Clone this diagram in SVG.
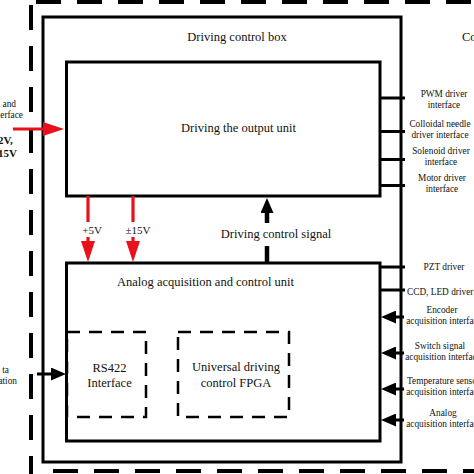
<svg xmlns="http://www.w3.org/2000/svg" width="474" height="474" viewBox="0 0 474 474">
<style>
  .solid { fill: none; stroke: #000; stroke-width: 3; }
  .dashbox { fill: none; stroke: #000; stroke-width: 2.5; stroke-dasharray: 13 9; }
  .outer { fill: none; stroke: #000; stroke-width: 4; stroke-dasharray: 25 16; }
  .t { font-family: "Liberation Serif", "Times New Roman", serif; fill: #111; }
  .big { font-size: 12.5px; }
  .sm { font-size: 9.3px; }
  .pw { font-size: 11px; }
  .red { stroke: #e8101a; stroke-width: 3.2; fill: none; }
  .blk { stroke: #000; stroke-width: 3; fill: none; }
  .sig { stroke: #000; stroke-width: 4.5; fill: none; }
</style>
<defs>
  <marker id="ahRed" markerUnits="userSpaceOnUse" viewBox="0 0 21 14" markerWidth="21" markerHeight="14" refX="8" refY="7" orient="auto">
    <path d="M0,0 L21,7 L0,14 Z" fill="#e8101a"/>
  </marker>
  <marker id="ahBlk" markerUnits="userSpaceOnUse" viewBox="0 0 15 13" markerWidth="15" markerHeight="13" refX="7" refY="6.5" orient="auto">
    <path d="M0,0 L15,6.5 L0,13 Z" fill="#000"/>
  </marker>
</defs>
<rect width="474" height="474" fill="#fff"/>

<g id="outer-boundary">
  <line class="outer" x1="36" y1="2" x2="480" y2="2" stroke-dashoffset="0"/>
  <line class="outer" x1="31" y1="5" x2="31" y2="474"/>
  <line class="outer" x1="53" y1="471" x2="480" y2="471"/>
  <text class="t big" x="462" y="41">Co</text>
</g>

<g id="control-box">
  <rect class="solid" x="43" y="17" width="358" height="445"/>
  <text class="t big" x="237" y="41" text-anchor="middle">Driving control box</text>
</g>

<g id="output-unit">
  <rect class="solid" x="66.5" y="62" width="313.5" height="134"/>
  <text class="t big" x="238.5" y="132" text-anchor="middle">Driving the output unit</text>
</g>

<g id="analog-unit">
  <rect class="solid" x="66.5" y="263" width="313.5" height="178"/>
  <text class="t big" x="205.5" y="286" text-anchor="middle">Analog acquisition and control unit</text>
</g>

<g id="rs422">
  <rect class="dashbox" x="67" y="332" width="79" height="85"/>
  <text class="t big" x="109.5" y="372" text-anchor="middle">RS422</text>
  <text class="t big" x="109.5" y="387" text-anchor="middle">Interface</text>
</g>

<g id="fpga">
  <rect class="dashbox" x="178" y="332" width="111" height="85"/>
  <text class="t big" x="236" y="371" text-anchor="middle">Universal driving</text>
  <text class="t big" x="236" y="387" text-anchor="middle">control FPGA</text>
</g>

<g id="left-labels">
  <text class="t sm" x="16" y="107" text-anchor="end">and</text>
  <text class="t sm" x="23" y="118" text-anchor="end">erface</text>
  <text class="t pw" x="-2" y="144" font-weight="bold">2V,</text>
  <text class="t pw" x="-2" y="157" font-weight="bold">15V</text>
  <text class="t sm" x="9" y="373" text-anchor="end">ta</text>
  <text class="t sm" x="17" y="384" text-anchor="end">ation</text>
</g>

<g id="right-labels">
  <text class="t sm" x="444" y="97" text-anchor="middle">PWM driver</text>
  <text class="t sm" x="444" y="108" text-anchor="middle">interface</text>
  <text class="t sm" x="440" y="127" text-anchor="middle">Colloidal needle</text>
  <text class="t sm" x="440" y="138" text-anchor="middle">driver interface</text>
  <text class="t sm" x="441" y="154" text-anchor="middle">Solenoid driver</text>
  <text class="t sm" x="441" y="165" text-anchor="middle">interface</text>
  <text class="t sm" x="442" y="181" text-anchor="middle">Motor driver</text>
  <text class="t sm" x="442" y="192" text-anchor="middle">interface</text>
  <text class="t sm" x="444" y="270" text-anchor="middle">PZT driver</text>
  <text class="t sm" x="407" y="295">CCD, LED driver</text>
  <text class="t sm" x="442" y="313" text-anchor="middle">Encoder</text>
  <text class="t sm" x="444" y="324" text-anchor="middle">acquisition interface</text>
  <text class="t sm" x="440" y="349" text-anchor="middle">Switch signal</text>
  <text class="t sm" x="443" y="360" text-anchor="middle">acquisition interface</text>
  <text class="t sm" x="407" y="384">Temperature sensor</text>
  <text class="t sm" x="444" y="395" text-anchor="middle">acquisition interface</text>
  <text class="t sm" x="443" y="416" text-anchor="middle">Analog</text>
  <text class="t sm" x="444" y="427" text-anchor="middle">acquisition interface</text>
</g>

<g id="connectors">
  <line class="red" x1="13" y1="129" x2="51" y2="129" marker-end="url(#ahRed)"/>
  <line class="red" x1="88" y1="196" x2="88" y2="222"/>
  <line class="red" x1="88" y1="237" x2="88" y2="249" marker-end="url(#ahRed)"/>
  <text class="t pw" x="92" y="234" text-anchor="middle">+5V</text>
  <line class="red" x1="133" y1="196" x2="133" y2="222"/>
  <line class="red" x1="133" y1="237" x2="133" y2="249" marker-end="url(#ahRed)"/>
  <text class="t pw" x="138" y="234" text-anchor="middle">±15V</text>

  <line class="sig" x1="267" y1="263" x2="267" y2="246"/>
  <line class="sig" x1="267" y1="223" x2="267" y2="206" marker-end="url(#ahBlk)"/>
  <text class="t big" x="276" y="238" text-anchor="middle">Driving control signal</text>

  <line class="blk" x1="380" y1="98" x2="405" y2="98"/>
  <line class="blk" x1="380" y1="131.5" x2="405" y2="131.5"/>
  <line class="blk" x1="380" y1="159.5" x2="405" y2="159.5"/>
  <line class="blk" x1="380" y1="185.5" x2="405" y2="185.5"/>
  <line class="blk" x1="380" y1="267" x2="405" y2="267"/>
  <line class="blk" x1="380" y1="290" x2="405" y2="290"/>

  <line class="blk" x1="404" y1="317" x2="389" y2="317" marker-end="url(#ahBlk)"/>
  <line class="blk" x1="404" y1="353" x2="389" y2="353" marker-end="url(#ahBlk)"/>
  <line class="blk" x1="404" y1="389" x2="389" y2="389" marker-end="url(#ahBlk)"/>
  <line class="blk" x1="404" y1="420" x2="389" y2="420" marker-end="url(#ahBlk)"/>

  <line class="blk" x1="37" y1="374" x2="58" y2="374" marker-end="url(#ahBlk)"/>
</g>
</svg>
